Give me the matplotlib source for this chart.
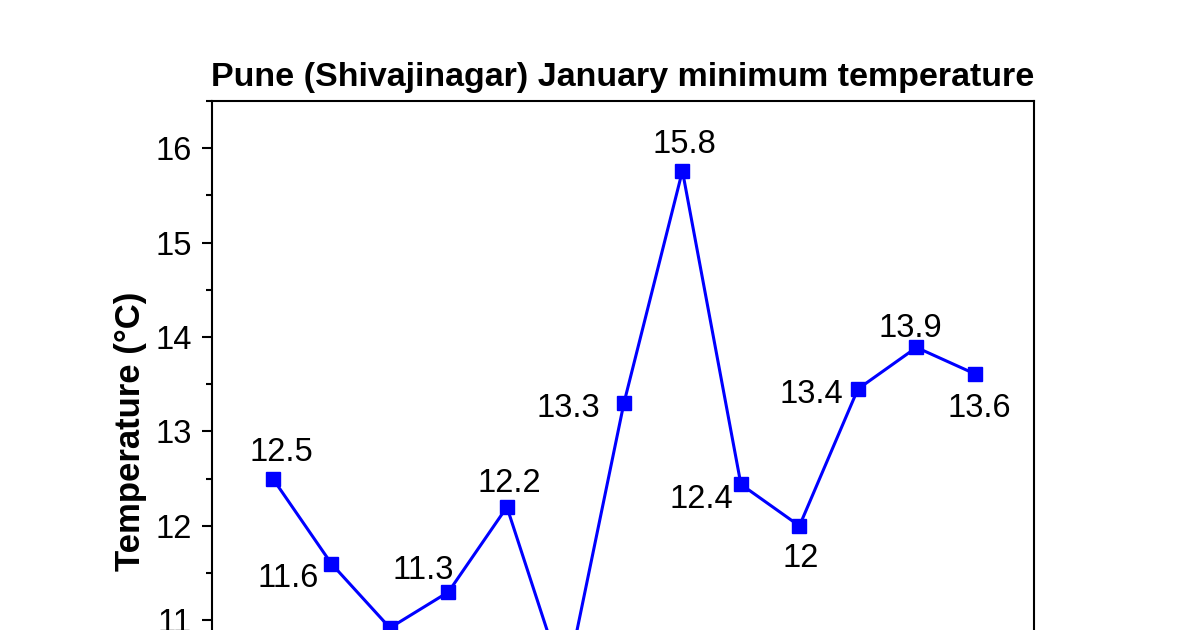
import matplotlib
matplotlib.use("Agg")
import matplotlib.pyplot as plt
from matplotlib.ticker import MultipleLocator

plt.rcParams['font.family'] = ['Liberation Sans', 'DejaVu Sans']

# January minimum temperature, Pune (Shivajinagar)
years = [2010, 2011, 2012, 2013, 2014, 2015, 2016, 2017, 2018, 2019, 2020, 2021, 2022]
temps = [12.5, 11.6, 10.92, 11.3, 12.2, 10.3, 13.3, 15.76, 12.44, 12.0, 13.45, 13.89, 13.61]
labels = ["12.5", "11.6", "10.9", "11.3", "12.2", "10.3", "13.3", "15.8", "12.4", "12", "13.4", "13.9", "13.6"]

# where each label's centre sits relative to its point, in points
offsets = [(5.8, 20.9), (-31, -8.6), (0, -21), (-18, 18), (2, 19.4), (0, -21),
           (-40.3, -1.4), (1.4, 21.6), (-28.8, -8.6), (0.7, -20.9), (-33.8, -1.4),
           (-4.3, 15.8), (2.9, -22.3)]

fs = 23.5
fig = plt.figure(figsize=(12, 6.3), dpi=100)
ax = fig.add_axes([0.1767, -0.2095, 0.685, 1.0492])

ax.plot(years, temps, color='#0000ff', linewidth=2.2, marker='s', markersize=10)

half_digit = 0.716 * fs / 2
for x, y, lab, (dx, dy) in zip(years, temps, labels, offsets):
    ax.annotate(lab, (x, y), xytext=(dx, dy - half_digit), textcoords='offset points',
                ha='center', va='baseline', fontsize=fs, color='black')

ax.set_xlim(years[0] - 1.04, years[-1] + 1.01)
ax.set_ylim(9.5, 16.5)
ax.yaxis.set_major_locator(MultipleLocator(1))
ax.yaxis.set_minor_locator(MultipleLocator(0.5))
ax.tick_params(axis='y', which='major', direction='out', length=7.5, width=1.5,
               labelsize=fs, pad=7)
ax.tick_params(axis='y', which='minor', direction='out', length=4, width=1.5)
ax.tick_params(axis='x', which='both', direction='out', length=7.5, width=1.5,
               labelbottom=False)
for s in ax.spines.values():
    s.set_linewidth(1.5)

ax.set_ylabel("Temperature (°C)", fontsize=25, fontweight='bold', labelpad=6)
ax.set_title("Pune (Shivajinagar) January minimum temperature", fontsize=24.5,
             fontweight='bold', pad=11)

fig.savefig("out.png", dpi=100)
